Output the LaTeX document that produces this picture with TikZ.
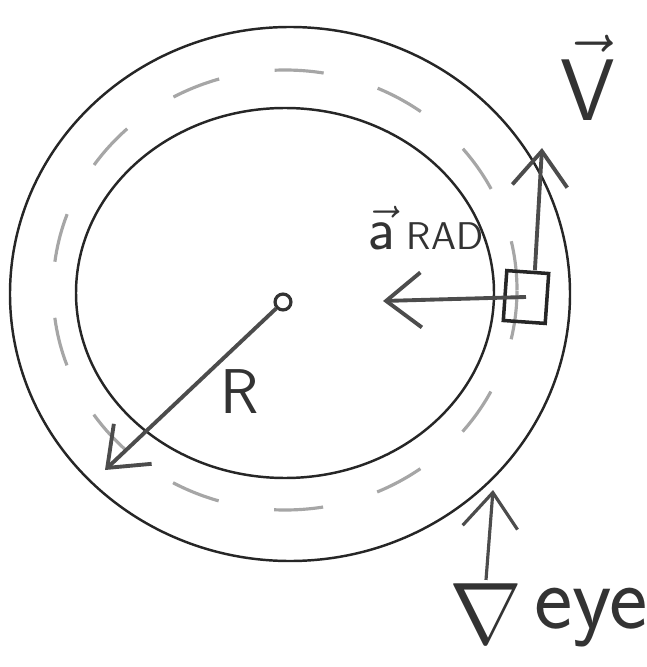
\documentclass[tikz,border=0pt]{standalone}
\usetikzlibrary{arrows.meta,positioning}
\tikzset{track/.style={draw=black!85,line width=0.7pt},lane/.style={draw=black!35,line width=0.9pt,dash pattern=on 14pt off 16pt},vec/.style={-{Straight Barb[length=3.5mm,width=5.5mm]},line width=1.1pt,draw=black!70},car/.style={draw=black!85,line width=1pt,minimum width=0.42cm,minimum height=0.5cm,inner sep=0pt},hand/.style={text=black!80,inner sep=1pt}}

\begin{document}
\begin{tikzpicture}
\useasboundingbox (0,0) rectangle (6.46,-6.67);
\draw[track] (2.90,-2.94) ellipse [x radius=2.80,y radius=2.67];
\draw[track] (2.85,-2.93) ellipse [x radius=2.09,y radius=1.85];
\draw[lane] (2.85,-2.90) ellipse [x radius=2.32,y radius=2.20];
\node[draw=black!80,circle,inner sep=1.6pt,line width=0.9pt] (c) at (2.83,-3.02){};
\coordinate (rim) at (1.05,-4.70);
\draw[vec] (c)--(rim);
\node[hand,font=\sffamily\fontsize{18}{20}\selectfont] (rlbl) at (2.40,-3.92){R};
\node[car,rotate=-4] (box) at (5.26,-2.97){};
\coordinate (ain) at (3.83,-3.01);
\draw[vec] (box.center)--(ain);
\node[hand,font=\sffamily\fontsize{19}{21}\selectfont] (albl) at (4.26,-2.28){$\vec{\mathsf{a}}$\,{\fontsize{11}{12}\selectfont RAD}};
\coordinate (vtip) at (5.42,-1.48);
\draw[vec] ([xshift=2pt]box.north)--(vtip);
\node[hand,font=\fontsize{30}{32}\selectfont] (vlbl) at (5.88,-0.78){$\vec{\mathsf{V}}$};
\node[hand,font=\fontsize{28}{30}\selectfont] (eyesym) at (4.86,-6.14){$\nabla$};
\node[hand,font=\sffamily\fontsize{26}{28}\selectfont,right=1pt of eyesym,yshift=-1pt] (eyetxt){eye};
\coordinate (look) at (4.93,-4.90);
\draw[vec,line width=0.9pt] (eyesym.north)--(look);
\end{tikzpicture}
\end{document}
